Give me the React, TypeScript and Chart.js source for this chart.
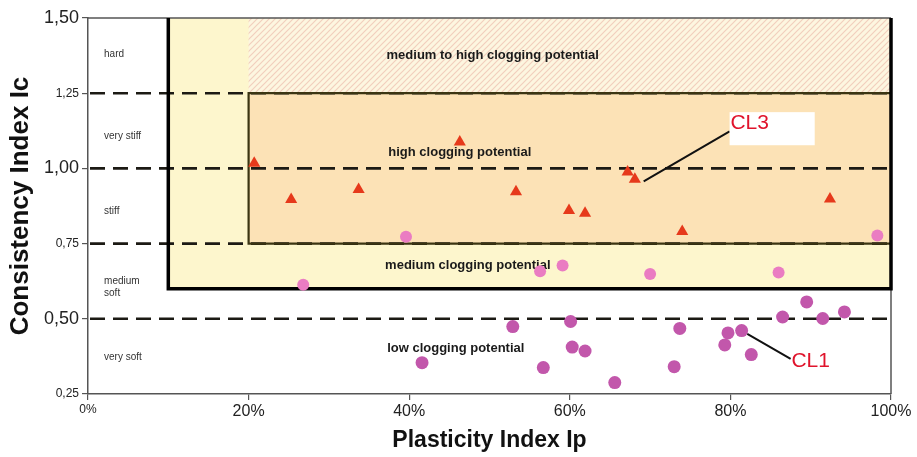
import React, { useEffect, useRef } from 'react';
import { Chart, registerables } from 'chart.js';

Chart.register(...registerables);

// ---- data ----
const triangleX = [20.7, 25.3, 33.7, 46.3, 53.3, 59.9, 61.9, 67.2, 68.1, 74.0, 92.4];
const triangleY = [1.017, 0.897, 0.93, 1.088, 0.922, 0.86, 0.851, 0.988, 0.964, 0.79, 0.898];

const pinkX = [26.8, 39.6, 56.3, 59.1, 70.0, 86.0, 98.3];
const pinkY = [0.613, 0.773, 0.658, 0.677, 0.649, 0.654, 0.777];

const purpleX = [41.6, 52.9, 60.1, 60.3, 61.9, 56.7, 65.6, 73.0, 73.7, 79.7, 81.4, 79.3, 82.6, 86.5, 89.5, 91.5, 94.2];
const purpleY = [0.354, 0.474, 0.491, 0.406, 0.393, 0.338, 0.288, 0.341, 0.468, 0.453, 0.461, 0.413, 0.381, 0.506, 0.556, 0.501, 0.523];

const xTicks = [0, 20, 40, 60, 80, 100];
const yTicks = [0.25, 0.5, 0.75, 1.0, 1.25, 1.5];
const dashedLevels = [1.25, 1.0, 0.75, 0.5];

// zone bounds in data units: [xMin, xMax, yMin, yMax]
const yellowZone = [10, 100, 0.6, 1.5];
const hatchZone = [20, 100, 1.25, 1.5];
const orangeZone = [20, 100, 0.75, 1.25];

const consistencyLabels = ['hard', 'very stiff', 'stiff', 'medium', 'soft', 'very soft'];
const consistencyLabelY = [1.38, 1.107, 0.857, 0.625, 0.585, 0.373];
const consistencyLabelX = 2.0;

const zoneLabels = ['medium to high clogging potential', 'high clogging potential', 'medium clogging potential', 'low clogging potential'];
const zoneLabelX = [50.4, 46.3, 47.3, 45.8];
const zoneLabelY = [1.375, 1.053, 0.677, 0.4];

const cl3Leader = [69.2, 0.957, 79.9, 1.123];
const cl3Box = [79.9, 90.5, 1.077, 1.187];
const cl3Text = [80.0, 1.15];
const cl1Leader = [82.1, 0.45, 87.5, 0.367];
const cl1Text = [87.6, 0.36];

const FONT = 'Liberation Sans, Arial, Helvetica, sans-serif';

function makeHatch(): CanvasPattern | string {
  const c = document.createElement('canvas');
  c.width = 6;
  c.height = 6;
  const g = c.getContext('2d');
  if (!g) return '#fbeedd';
  g.fillStyle = '#fdf6e0';
  g.fillRect(0, 0, 6, 6);
  g.strokeStyle = '#f2cfbd';
  g.lineWidth = 1.2;
  g.beginPath();
  g.moveTo(-1, 7);
  g.lineTo(7, -1);
  g.moveTo(-4, 4);
  g.lineTo(4, -4);
  g.moveTo(2, 10);
  g.lineTo(10, 2);
  g.stroke();
  const p = g.createPattern(c, 'repeat');
  return p || '#fbeedd';
}

const zonesPlugin = {
  id: 'zones',
  beforeDatasetsDraw(chart: any) {
    const ctx = chart.ctx as CanvasRenderingContext2D;
    const xs = chart.scales.x;
    const ys = chart.scales.y;
    const px = (v: number) => xs.getPixelForValue(v);
    const py = (v: number) => ys.getPixelForValue(v);
    const rect = (z: number[], fill: any) => {
      ctx.fillStyle = fill;
      ctx.fillRect(px(z[0]), py(z[3]), px(z[1]) - px(z[0]), py(z[2]) - py(z[3]));
    };
    ctx.save();
    rect(yellowZone, '#fdf6cd');
    rect(hatchZone, makeHatch());
    rect(orangeZone, '#fce2b6');

    // dashed lines
    ctx.strokeStyle = '#1c1a14';
    ctx.lineWidth = 2.6;
    ctx.setLineDash([15, 8]);
    dashedLevels.forEach((lv) => {
      ctx.beginPath();
      ctx.moveTo(px(0) + 2, py(lv));
      ctx.lineTo(px(100), py(lv));
      ctx.stroke();
    });
    ctx.setLineDash([]);

    // orange box border
    ctx.strokeStyle = '#3b3512';
    ctx.lineWidth = 2.2;
    ctx.beginPath();
    ctx.moveTo(px(orangeZone[1]), py(orangeZone[3]));
    ctx.lineTo(px(orangeZone[0]), py(orangeZone[3]));
    ctx.lineTo(px(orangeZone[0]), py(orangeZone[2]));
    ctx.lineTo(px(orangeZone[1]), py(orangeZone[2]));
    ctx.stroke();

    // frame top & right thin
    ctx.strokeStyle = '#555';
    ctx.lineWidth = 1.5;
    ctx.beginPath();
    ctx.moveTo(px(0), py(1.5));
    ctx.lineTo(px(100), py(1.5));
    ctx.moveTo(px(100), py(1.5));
    ctx.lineTo(px(100), py(0.25));
    ctx.stroke();

    // thick black box
    ctx.strokeStyle = '#000';
    ctx.lineWidth = 3.5;
    ctx.beginPath();
    ctx.moveTo(px(yellowZone[0]), py(yellowZone[3]));
    ctx.lineTo(px(yellowZone[0]), py(yellowZone[2]));
    ctx.lineTo(px(yellowZone[1]), py(yellowZone[2]));
    ctx.lineTo(px(yellowZone[1]), py(yellowZone[3]));
    ctx.stroke();

    // consistency labels
    ctx.fillStyle = '#333';
    ctx.font = `10px ${FONT}`;
    ctx.textAlign = 'left';
    ctx.textBaseline = 'middle';
    consistencyLabels.forEach((t, i) => {
      ctx.fillText(t, px(consistencyLabelX), py(consistencyLabelY[i]));
    });

    // zone labels
    ctx.fillStyle = '#1a1a1a';
    ctx.font = `bold 13px ${FONT}`;
    ctx.textAlign = 'center';
    zoneLabels.forEach((t, i) => {
      ctx.fillText(t, px(zoneLabelX[i]), py(zoneLabelY[i]));
    });
    ctx.restore();
  },
  afterDatasetsDraw(chart: any) {
    const ctx = chart.ctx as CanvasRenderingContext2D;
    const xs = chart.scales.x;
    const ys = chart.scales.y;
    const px = (v: number) => xs.getPixelForValue(v);
    const py = (v: number) => ys.getPixelForValue(v);
    ctx.save();
    ctx.strokeStyle = '#111';
    ctx.lineWidth = 2;
    ctx.beginPath();
    ctx.moveTo(px(cl3Leader[0]), py(cl3Leader[1]));
    ctx.lineTo(px(cl3Leader[2]), py(cl3Leader[3]));
    ctx.moveTo(px(cl1Leader[0]), py(cl1Leader[1]));
    ctx.lineTo(px(cl1Leader[2]), py(cl1Leader[3]));
    ctx.stroke();

    ctx.fillStyle = '#ffffff';
    ctx.fillRect(px(cl3Box[0]), py(cl3Box[3]), px(cl3Box[1]) - px(cl3Box[0]), py(cl3Box[2]) - py(cl3Box[3]));

    ctx.fillStyle = '#e0142c';
    ctx.font = `21px ${FONT}`;
    ctx.textAlign = 'left';
    ctx.textBaseline = 'middle';
    ctx.fillText('CL3', px(cl3Text[0]), py(cl3Text[1]));
    ctx.fillText('CL1', px(cl1Text[0]), py(cl1Text[1]));
    ctx.restore();
  },
};

export default function App() {
  const ref = useRef<HTMLCanvasElement | null>(null);
  useEffect(() => {
    if (!ref.current) return;
    const toPts = (xs: number[], ys: number[]) => xs.map((x, i) => ({ x, y: ys[i] }));
    const chart = new Chart(ref.current, {
      type: 'scatter',
      data: {
        datasets: [
          {
            label: 'CL3',
            data: toPts(triangleX, triangleY),
            pointStyle: 'triangle',
            pointRadius: 7,
            backgroundColor: '#e6391b',
            borderColor: '#e6391b',
            borderWidth: 0,
          },
          {
            label: 'medium',
            data: toPts(pinkX, pinkY),
            pointStyle: 'circle',
            pointRadius: 6,
            backgroundColor: '#ea7cc2',
            borderColor: '#ea7cc2',
            borderWidth: 0,
          },
          {
            label: 'CL1',
            data: toPts(purpleX, purpleY),
            pointStyle: 'circle',
            pointRadius: 6.5,
            backgroundColor: '#c257ab',
            borderColor: '#c257ab',
            borderWidth: 0,
          },
        ],
      },
      options: {
        animation: false,
        responsive: true,
        maintainAspectRatio: false,
        layout: { padding: { top: 18, right: 26, left: 0, bottom: 0 } },
        plugins: { legend: { display: false }, tooltip: { enabled: false } },
        scales: {
          x: {
            type: 'linear',
            min: 0,
            max: 100,
            afterFit: (s: any) => { s.height = 63; },
            afterBuildTicks: (s: any) => { s.ticks = xTicks.map((v) => ({ value: v })); },
            ticks: {
              color: '#222',
              padding: 2,
              callback: (v: any) => `${v}%`,
              font: (c: any) => ({ family: FONT, size: c.tick && c.tick.value === 0 ? 12 : 16 }),
            },
            grid: { drawOnChartArea: false, drawTicks: true, tickLength: 6, color: '#555', lineWidth: 1.2 },
            border: { color: '#555', width: 1.5 },
            title: {
              display: true,
              text: 'Plasticity Index Ip',
              color: '#111',
              font: { family: FONT, size: 23, weight: 'bold' },
              padding: { top: 0, bottom: 3 },
            },
          },
          y: {
            type: 'linear',
            min: 0.25,
            max: 1.5,
            afterFit: (s: any) => { s.width = 88; },
            afterBuildTicks: (s: any) => { s.ticks = yTicks.map((v) => ({ value: v })); },
            ticks: {
              color: '#222',
              padding: 3,
              callback: (v: any) => Number(v).toFixed(2).replace('.', ','),
              font: (c: any) => {
                const v = c.tick ? c.tick.value : 0;
                const major = Math.abs(v * 2 - Math.round(v * 2)) < 1e-6;
                return { family: FONT, size: major ? 18 : 12 };
              },
            },
            grid: { drawOnChartArea: false, drawTicks: true, tickLength: 6, color: '#555', lineWidth: 1.2 },
            border: { color: '#555', width: 1.5 },
            title: {
              display: true,
              text: 'Consistency Index Ic',
              color: '#111',
              font: { family: FONT, size: 26, weight: 'bold' },
              padding: { top: 5, bottom: 0 },
            },
          },
        },
      },
      plugins: [zonesPlugin],
    } as any);
    return () => chart.destroy();
  }, []);

  return (
    <div style={{ position: 'fixed', left: 0, top: 0, width: 917, height: 457, background: '#fff' }}>
      <canvas ref={ref} />
    </div>
  );
}
